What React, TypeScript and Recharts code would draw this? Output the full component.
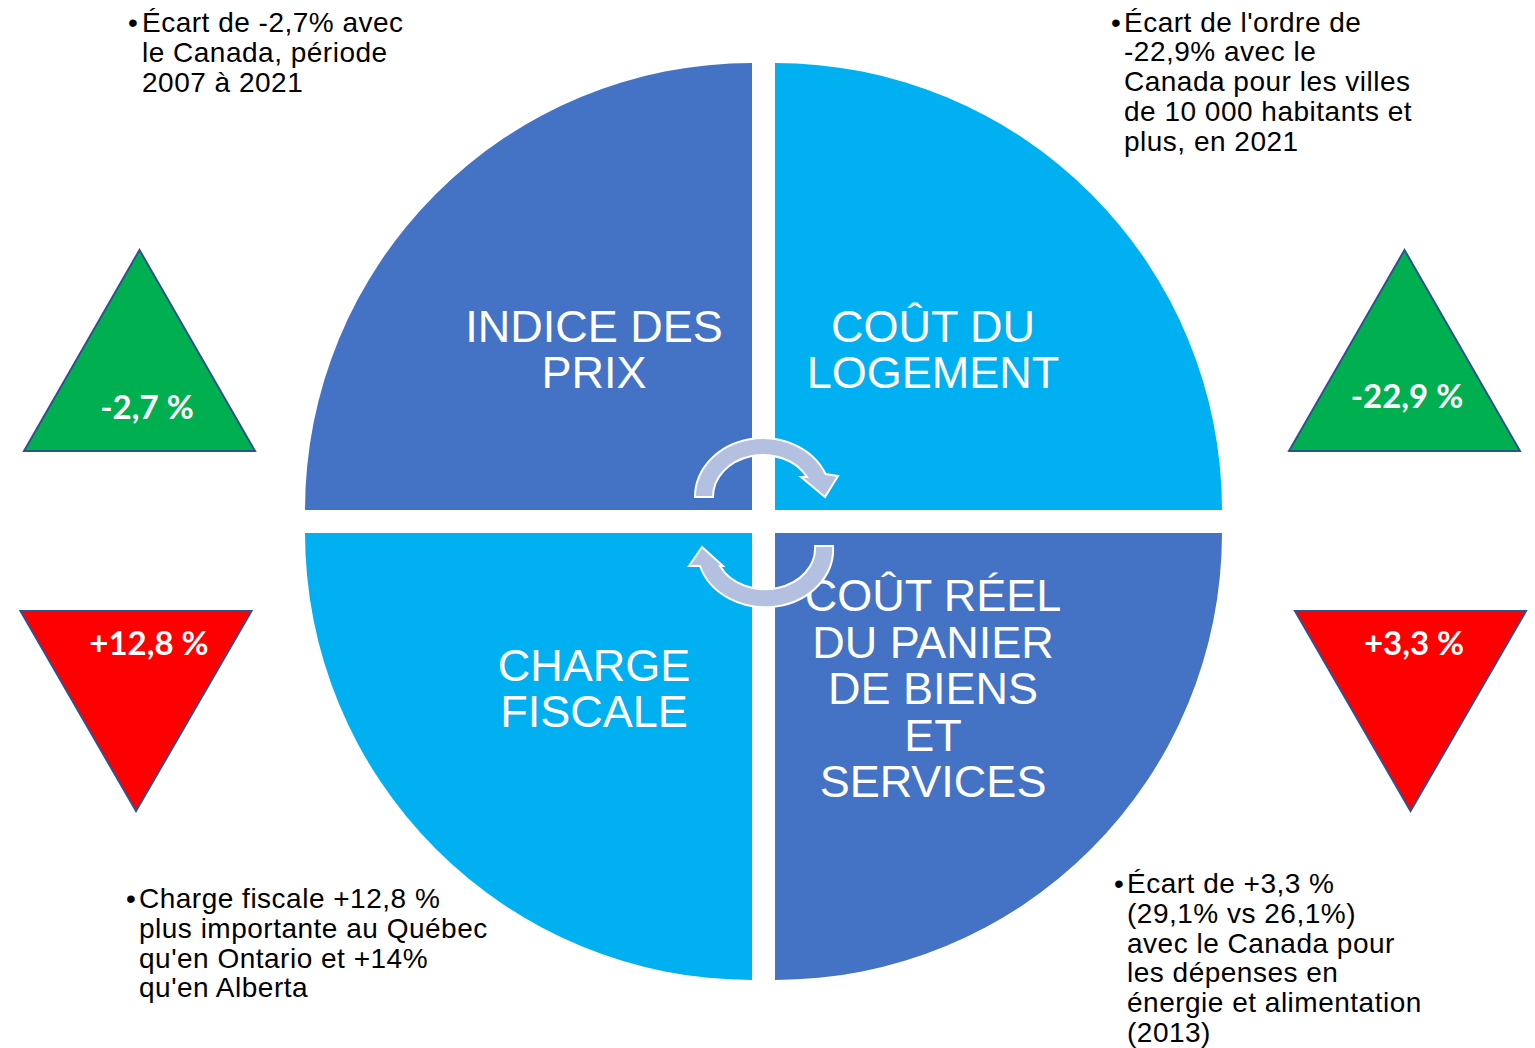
import React from 'react';
import { PieChart, Pie, Cell } from 'recharts';

// four themes of the wheel, one quarter each
const quadrantNames = ['Indice des prix', 'Coût du logement', 'Charge fiscale', 'Coût réel du panier'];
const quadrantLines = [
  ['INDICE DES', 'PRIX'],
  ['COÛT DU', 'LOGEMENT'],
  ['CHARGE', 'FISCALE'],
  ['COÛT RÉEL', 'DU PANIER', 'DE BIENS', 'ET', 'SERVICES'],
];
const quadrantShare = [25, 25, 25, 25];
const quadrantColors = ['#4472c4', '#00b0f0', '#00b0f0', '#4472c4'];

// gap with Canada, shown in the triangles
const gapLabels = ['-2,7 %', '-22,9 %', '+12,8 %', '+3,3 %'];
const gapTrend = ['up', 'up', 'down', 'down'];
const gapColors = ['#00b050', '#00b050', '#ff0000', '#ff0000'];

// bullet notes
const noteLines = [
  ['Écart de -2,7% avec', 'le Canada, période', '2007 à 2021'],
  ["Écart de l'ordre de", '-22,9% avec le', 'Canada pour les villes', 'de 10 000 habitants et', 'plus, en 2021'],
  ['Charge fiscale +12,8 %', 'plus importante au Québec', "qu'en Ontario et +14%", "qu'en Alberta"],
  ['Écart de +3,3 %', '(29,1% vs 26,1%)', 'avec le Canada pour', 'les dépenses en', 'énergie et alimentation', '(2013)'],
];

const W = 1535;
const H = 1048;
const R = 447;
const RAD = Math.PI / 180;

const quadrantLayout = [
  { cx: 752, cy: 510, start: 90, end: 180 },
  { cx: 775, cy: 510, start: 0, end: 90 },
  { cx: 752, cy: 533, start: 180, end: 270 },
  { cx: 775, cy: 533, start: 270, end: 360 },
];

const triangleLayout = [
  { cx: 139.5, top: 250, bottom: 451, half: 115.5, labelX: 147, labelY: 419 },
  { cx: 1404.5, top: 250, bottom: 451, half: 115.5, labelX: 1407, labelY: 408 },
  { cx: 136, top: 611, bottom: 811, half: 115.5, labelX: 149, labelY: 655 },
  { cx: 1410.5, top: 611, bottom: 811, half: 115.5, labelX: 1414, labelY: 655 },
];

const noteLayout = [
  { bulletX: 128, textX: 142, y: 32 },
  { bulletX: 1111, textX: 1124, y: 31.5 },
  { bulletX: 126, textX: 139, y: 908 },
  { bulletX: 1114, textX: 1127, y: 893 },
];

const NOTE_PITCH = 29.8;
const sans = '"Liberation Sans", Arial, sans-serif';

const makeLabel = (i: number) => (props: any) => {
  const { cx, cy, midAngle, outerRadius } = props;
  const r = outerRadius * 0.5;
  const x = cx + r * Math.cos(-midAngle * RAD);
  const y = cy + r * Math.sin(-midAngle * RAD);
  const lines = quadrantLines[i];
  const pitch = 46.5;
  const first = y - ((lines.length - 1) * pitch) / 2 + 13;
  return (
    <text
      x={x}
      y={first}
      fill="#ffffff"
      textAnchor="middle"
      fontFamily={sans}
      fontSize={45}
    >
      {lines.map((l, k) => (
        <tspan key={k} x={x} y={first + k * pitch}>
          {l}
        </tspan>
      ))}
    </text>
  );
};

const Overlay = () => (
  <svg
    width={W}
    height={H}
    style={{ position: 'absolute', left: 0, top: 0, pointerEvents: 'none' }}
  >
    {/* rotating arrows in the middle */}
    <path
      d="M695,497 A68,59 0 0 1 825.6,474 L838,476 L825,497 L801,477 L807,477 A50,42 0 0 0 713,497 Z"
      fill="#b4c0df"
      stroke="#ffffff"
      strokeWidth={2}
    />
    <path
      d="M833,546 A68,58 0 0 1 700,566 L689,566 L702,547 L723,566 L720,566 A50,41 0 0 0 815,546 Z"
      fill="#b4c0df"
      stroke="#ffffff"
      strokeWidth={2}
    />

    {gapLabels.map((label, i) => {
      const t = triangleLayout[i];
      const pts =
        gapTrend[i] === 'up'
          ? `${t.cx},${t.top} ${t.cx + t.half},${t.bottom} ${t.cx - t.half},${t.bottom}`
          : `${t.cx - t.half},${t.top} ${t.cx + t.half},${t.top} ${t.cx},${t.bottom}`;
      return (
        <g key={label}>
          <polygon points={pts} fill={gapColors[i]} stroke="#2f528f" strokeWidth={2} />
          <text
            x={t.labelX}
            y={t.labelY}
            textAnchor="middle"
            fill="#ffffff"
            fontFamily="Lato, 'Open Sans', sans-serif"
            fontWeight={700}
            fontSize={33}
          >
            {label}
          </text>
        </g>
      );
    })}

    {noteLines.map((lines, i) => {
      const n = noteLayout[i];
      return (
        <g key={i} fontFamily={sans} fontSize={28} fill="#000000" letterSpacing={0.5}>
          <text x={n.bulletX} y={n.y}>•</text>
          {lines.map((l, k) => (
            <text key={k} x={n.textX} y={n.y + k * NOTE_PITCH}>
              {l}
            </text>
          ))}
        </g>
      );
    })}
  </svg>
);

export default function App() {
  return (
    <div style={{ position: 'absolute', left: 0, top: 0, width: W, height: H, background: '#ffffff' }}>
      <PieChart width={W} height={H} margin={{ top: 0, right: 0, bottom: 0, left: 0 }}>
        {quadrantLayout.map((q, i) => (
          <Pie
            key={quadrantNames[i]}
            data={[{ name: quadrantNames[i], value: quadrantShare[i] }]}
            dataKey="value"
            nameKey="name"
            cx={q.cx}
            cy={q.cy}
            startAngle={q.start}
            endAngle={q.end}
            innerRadius={0}
            outerRadius={R}
            stroke="none"
            label={makeLabel(i)}
            labelLine={false}
            isAnimationActive={false}
          >
            <Cell fill={quadrantColors[i]} />
          </Pie>
        ))}
      </PieChart>
      <Overlay />
    </div>
  );
}
